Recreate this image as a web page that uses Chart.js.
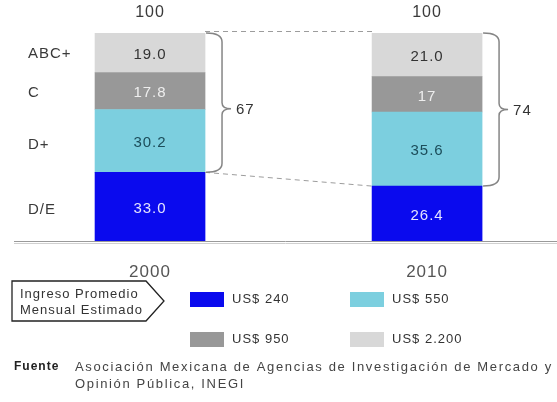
<!DOCTYPE html>
<html lang="es">
<head>
  <meta charset="UTF-8">
  <title>Niveles socioeconómicos 2000 - 2010</title>
  <script src="https://cdn.jsdelivr.net/npm/chart.js"></script>
  <style>
    body {
      margin: 0;
      background: #ffffff;
    }
    canvas {
      display: block;
    }
  </style>
</head>
<body>

<canvas id="grafico" width="557" height="402"></canvas>

<script>
// Datos
const categories = ["2000", "2010"];
const segmentNames = ["D/E", "D+", "C", "ABC+"];
const deValues = [33.0, 26.4];
const dPlusValues = [30.2, 35.6];
const cValues = [17.8, 17];
const abcValues = [19.0, 21.0];
const deText = ["33.0", "26.4"];
const dPlusText = ["30.2", "35.6"];
const cText = ["17.8", "17"];
const abcText = ["19.0", "21.0"];
const totalText = ["100", "100"];
const braceText = ["67", "74"];
const incomeLabels = ["US$ 240", "US$ 550", "US$ 950", "US$ 2.200"];
const legendTitle = ["Ingreso Promedio", "Mensual Estimado"];
const sourceLabel = "Fuente";
const sourceLines = [
  "Asociación Mexicana de Agencias de Investigación de Mercado y",
  "Opinión Pública, INEGI"
];

const colors = ["#0a0aee", "#7ccfdf", "#989898", "#d8d8d8"];
const textColors = ["#e4e4ff", "#1c4d5a", "#eeeeee", "#333333"];
const FONT = '"Liberation Sans", Arial, sans-serif';

const series = [deValues, dPlusValues, cValues, abcValues];
const seriesText = [deText, dPlusText, cText, abcText];

function txt(ctx, s, x, y, size, color, align, weight, spacing) {
  ctx.save();
  ctx.font = (weight || "normal") + " " + size + "px " + FONT;
  ctx.letterSpacing = (spacing || 1) + "px";
  ctx.fillStyle = color;
  ctx.textAlign = align || "center";
  ctx.textBaseline = "middle";
  ctx.fillText(s, x, y);
  ctx.restore();
}

function brace(ctx, x0, x1, tipX, yTop, yBot, yTip) {
  const r = 9, r2 = 6;
  ctx.beginPath();
  ctx.moveTo(x0, yTop);
  ctx.quadraticCurveTo(x1, yTop, x1, yTop + r);
  ctx.lineTo(x1, yTip - r2);
  ctx.quadraticCurveTo(x1, yTip, tipX, yTip);
  ctx.quadraticCurveTo(x1, yTip, x1, yTip + r2);
  ctx.lineTo(x1, yBot - r);
  ctx.quadraticCurveTo(x1, yBot, x0, yBot);
  ctx.stroke();
}

const extras = {
  id: "extras",
  afterDatasetsDraw(chart) {
    const ctx = chart.ctx;
    const area = chart.chartArea;
    const y = chart.scales.y;
    const metas = series.map((s, i) => chart.getDatasetMeta(i));

    // etiquetas de valores dentro de cada segmento
    metas.forEach((meta, i) => {
      meta.data.forEach((bar, j) => {
        txt(ctx, seriesText[i][j], bar.x, (bar.y + bar.base) / 2 + 2, 15, textColors[i]);
      });
    });

    // totales y años
    metas[3].data.forEach((bar, j) => {
      txt(ctx, totalText[j], bar.x, y.getPixelForValue(100) - 20, 16, "#3a3a3a");
      txt(ctx, categories[j], bar.x, area.bottom + 31, 17, "#555555");
    });

    // nombres de segmento a la izquierda
    metas.forEach((meta, i) => {
      const a = meta.data[0], b = meta.data[1];
      const cy = ((a.y + a.base) / 2 + (b.y + b.base) / 2) / 2;
      txt(ctx, segmentNames[i], 28, cy, 15, "#3a3a3a", "left");
    });

    // línea base
    ctx.save();
    ctx.strokeStyle = "#9a9a9a";
    ctx.lineWidth = 1;
    ctx.beginPath();
    ctx.moveTo(area.left, area.bottom + 0.5);
    ctx.lineTo(area.right, area.bottom + 0.5);
    ctx.stroke();
    ctx.strokeStyle = "#d0d0d0";
    ctx.beginPath();
    ctx.moveTo(area.left, area.bottom + 2.5);
    ctx.lineTo(area.right, area.bottom + 2.5);
    ctx.stroke();
    ctx.restore();

    // líneas punteadas entre barras
    const L = metas[0].data[0], R = metas[0].data[1];
    const lRight = L.x + L.width / 2, rLeft = R.x - R.width / 2;
    ctx.save();
    ctx.strokeStyle = "#9c9c9c";
    ctx.lineWidth = 1;
    ctx.setLineDash([5, 4]);
    ctx.beginPath();
    ctx.moveTo(lRight, y.getPixelForValue(100) - 1.5);
    ctx.lineTo(rLeft, y.getPixelForValue(100) - 1.5);
    ctx.moveTo(lRight, L.y);
    ctx.lineTo(rLeft, R.y);
    ctx.stroke();
    ctx.restore();

    // llaves con suma de D+, C y ABC+
    ctx.save();
    ctx.strokeStyle = "#858585";
    ctx.lineWidth = 1.5;
    metas[0].data.forEach((bar, j) => {
      const x0 = bar.x + bar.width / 2 + 1;
      const yTop = y.getPixelForValue(100);
      const yBot = bar.y;
      const yTip = (yTop + yBot) / 2 + (j === 0 ? 6 : 0);
      brace(ctx, x0, x0 + 16, x0 + 25, yTop, yBot, yTip);
      txt(ctx, braceText[j], x0 + 30, yTip + 1, 15, "#333333", "left");
    });
    ctx.restore();

    // cuadro "Ingreso Promedio Mensual Estimado"
    ctx.save();
    ctx.strokeStyle = "#222222";
    ctx.lineWidth = 1.3;
    ctx.beginPath();
    ctx.moveTo(12, 281);
    ctx.lineTo(146, 281);
    ctx.lineTo(164, 301);
    ctx.lineTo(146, 321);
    ctx.lineTo(12, 321);
    ctx.closePath();
    ctx.stroke();
    ctx.restore();
    txt(ctx, legendTitle[0], 20, 294, 13, "#333333", "left");
    txt(ctx, legendTitle[1], 20, 310, 13, "#333333", "left");

    // leyenda de ingresos
    const cols = [190, 350];
    const rows = [299, 339];
    incomeLabels.forEach((lab, i) => {
      const cx = cols[i % 2], cy = rows[Math.floor(i / 2)];
      ctx.fillStyle = colors[i];
      ctx.fillRect(cx, cy - 7, 34, 15);
      txt(ctx, lab, cx + 42, cy, 13, "#333333", "left");
    });

    // fuente
    txt(ctx, sourceLabel, 14, 367, 12, "#222222", "left", "bold");
    txt(ctx, sourceLines[0], 75, 367, 13, "#444444", "left", null, 1.65);
    txt(ctx, sourceLines[1], 75, 384, 13, "#444444", "left", null, 1.65);
  }
};

const ctx = document.getElementById("grafico").getContext("2d");

new Chart(ctx, {
  type: "bar",
  data: {
    datasets: series.map((vals, i) => ({
      label: segmentNames[i],
      data: categories.map((c, j) => ({ x: Number(c), y: vals[j] })),
      backgroundColor: colors[i],
      borderWidth: 0,
      barThickness: 110
    }))
  },
  options: {
    responsive: false,
    animation: false,
    layout: { padding: { top: 33, bottom: 161, left: 14, right: 0 } },
    scales: {
      x: { type: "linear", stacked: true, display: false, offset: false, min: 1995.09, max: 2014.69 },
      y: { stacked: true, display: false, min: 0, max: 100 }
    },
    plugins: {
      legend: { display: false },
      tooltip: { enabled: false }
    }
  },
  plugins: [extras]
});
</script>
</body>
</html>
